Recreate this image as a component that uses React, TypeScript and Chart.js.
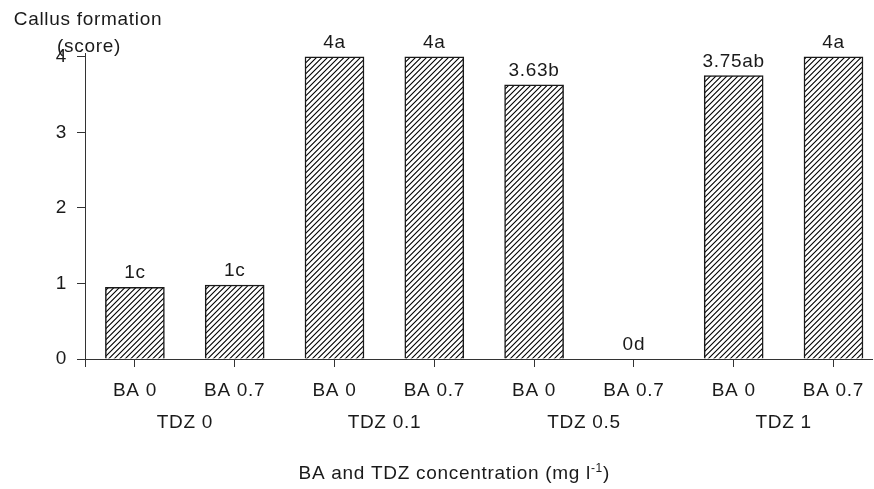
import React, { useEffect, useRef } from "react";
import { Chart, registerables } from "chart.js";

Chart.register(...registerables);

const categories = ["BA 0", "BA 0.7", "BA 0", "BA 0.7", "BA 0", "BA 0.7", "BA 0", "BA 0.7"];
const groups = ["TDZ 0", "TDZ 0.1", "TDZ 0.5", "TDZ 1"];
const values = [0.95, 0.98, 4, 4, 3.63, 0, 3.75, 4];
const valueLabels = ["1c", "1c", "4a", "4a", "3.63b", "0d", "3.75ab", "4a"];
const yTicks = [0, 1, 2, 3, 4];
const yTitle = ["Callus formation", "(score)"];
const xTitleMain = "BA and TDZ concentration (mg l";
const xTitleSup = "-1";
const xTitleEnd = ")";

const FONT = '"Liberation Sans", Arial, sans-serif';
const FS = 19;
const TEXT = "#1a1a1a";
const LS = "0.7px";

function makeHatch(): CanvasPattern | string {
  const c = document.createElement("canvas");
  const s = 11;
  c.width = s;
  c.height = s;
  const g = c.getContext("2d");
  if (!g) return "#fff";
  g.fillStyle = "#fff";
  g.fillRect(0, 0, s, s);
  g.strokeStyle = "#000";
  g.lineWidth = 1.1;
  g.beginPath();
  for (let k = -2; k <= 6; k++) {
    const d = k * 5.5;
    g.moveTo(d - 2, s + 2);
    g.lineTo(d + s + 2, -2);
  }
  g.stroke();
  const p = g.createPattern(c, "repeat");
  return p || "#fff";
}

const spacingPlugin = {
  id: "spacing",
  beforeDraw(chart: any) {
    (chart.ctx as any).letterSpacing = LS;
  },
};

const annotPlugin = {
  id: "annot",
  afterDraw(chart: any) {
    const ctx = chart.ctx as CanvasRenderingContext2D;
    const x = chart.scales.x;
    const y = chart.scales.y;
    ctx.save();
    (ctx as any).letterSpacing = LS;
    ctx.fillStyle = TEXT;
    ctx.font = `${FS}px ${FONT}`;
    ctx.textAlign = "center";
    ctx.textBaseline = "alphabetic";
    values.forEach((v, i) => {
      const px = x.getPixelForValue(i);
      const py = y.getPixelForValue(v);
      ctx.fillText(valueLabels[i], px, py - 9);
    });
    ctx.textBaseline = "middle";
    groups.forEach((g, k) => {
      const px = x.getPixelForValue(k * 2 + 0.5);
      ctx.fillText(g, px, y.getPixelForValue(0) + 64);
    });
    ctx.fillText(yTitle[0], 88, 20);
    ctx.fillText(yTitle[1], 89, 47);
    ctx.textAlign = "left";
    const supFont = `12px ${FONT}`;
    const mainFont = `${FS}px ${FONT}`;
    ctx.font = mainFont;
    const w1 = ctx.measureText(xTitleMain).width;
    ctx.font = supFont;
    const w2 = ctx.measureText(xTitleSup).width;
    ctx.font = mainFont;
    const w3 = ctx.measureText(xTitleEnd).width;
    const total = w1 + w2 + w3;
    const cx = x.getPixelForValue(3.2);
    let sx = cx - total / 2;
    const ty = y.getPixelForValue(0) + 115;
    ctx.fillText(xTitleMain, sx, ty);
    sx += w1;
    ctx.font = supFont;
    ctx.fillText(xTitleSup, sx, ty - 5);
    sx += w2;
    ctx.font = mainFont;
    ctx.fillText(xTitleEnd, sx, ty);
    ctx.restore();
  },
};

export default function App() {
  const ref = useRef<HTMLCanvasElement>(null);
  useEffect(() => {
    if (!ref.current) return;
    const chart = new Chart(ref.current, {
      type: "bar",
      data: {
        datasets: [
          {
            data: values.map((v, i) => ({ x: i, y: v })),
            backgroundColor: makeHatch() as any,
            borderColor: "#1a1a1a",
            borderWidth: 1.5,
            barThickness: 59,
          },
        ],
      },
      options: {
        responsive: false,
        animation: false,
        layout: { padding: { top: 53, left: 0, right: 0, bottom: 0 } },
        plugins: { legend: { display: false }, tooltip: { enabled: false } },
        scales: {
          x: {
            type: "linear",
            min: -0.5,
            max: 7.39,
            offset: false,
            grid: { offset: false, drawOnChartArea: false, drawTicks: true, tickLength: 8, color: "#333" },
            border: { display: true, color: "#333", width: 1 },
            afterFit(scale: any) {
              scale.height = 130;
            },
            afterBuildTicks(scale: any) {
              scale.ticks = [-0.5, ...categories.map((_, i) => i)].map((v) => ({ value: v }));
            },
            ticks: {
              autoSkip: false,
              maxRotation: 0,
              padding: 12,
              color: TEXT,
              font: { family: FONT, size: FS },
              callback: (v: any) => (Number.isInteger(v) ? categories[v] : ""),
            },
          },
          y: {
            type: "linear",
            min: 0,
            max: 4.05,
            grid: { drawOnChartArea: false, drawTicks: true, tickLength: 8, color: "#333" },
            border: { display: true, color: "#333", width: 1 },
            afterFit(scale: any) {
              scale.width = 85;
            },
            afterBuildTicks(scale: any) {
              scale.ticks = yTicks.map((v) => ({ value: v }));
            },
            ticks: {
              padding: 10,
              color: TEXT,
              font: { family: FONT, size: FS },
              callback: (v: any) => String(v),
            },
          },
        },
      },
      plugins: [spacingPlugin, annotPlugin],
    } as any);
    return () => chart.destroy();
  }, []);
  return (
    <div style={{ position: "absolute", left: 0, top: 0, width: 874, height: 489, background: "#fff" }}>
      <canvas ref={ref} width={874} height={489} />
    </div>
  );
}
